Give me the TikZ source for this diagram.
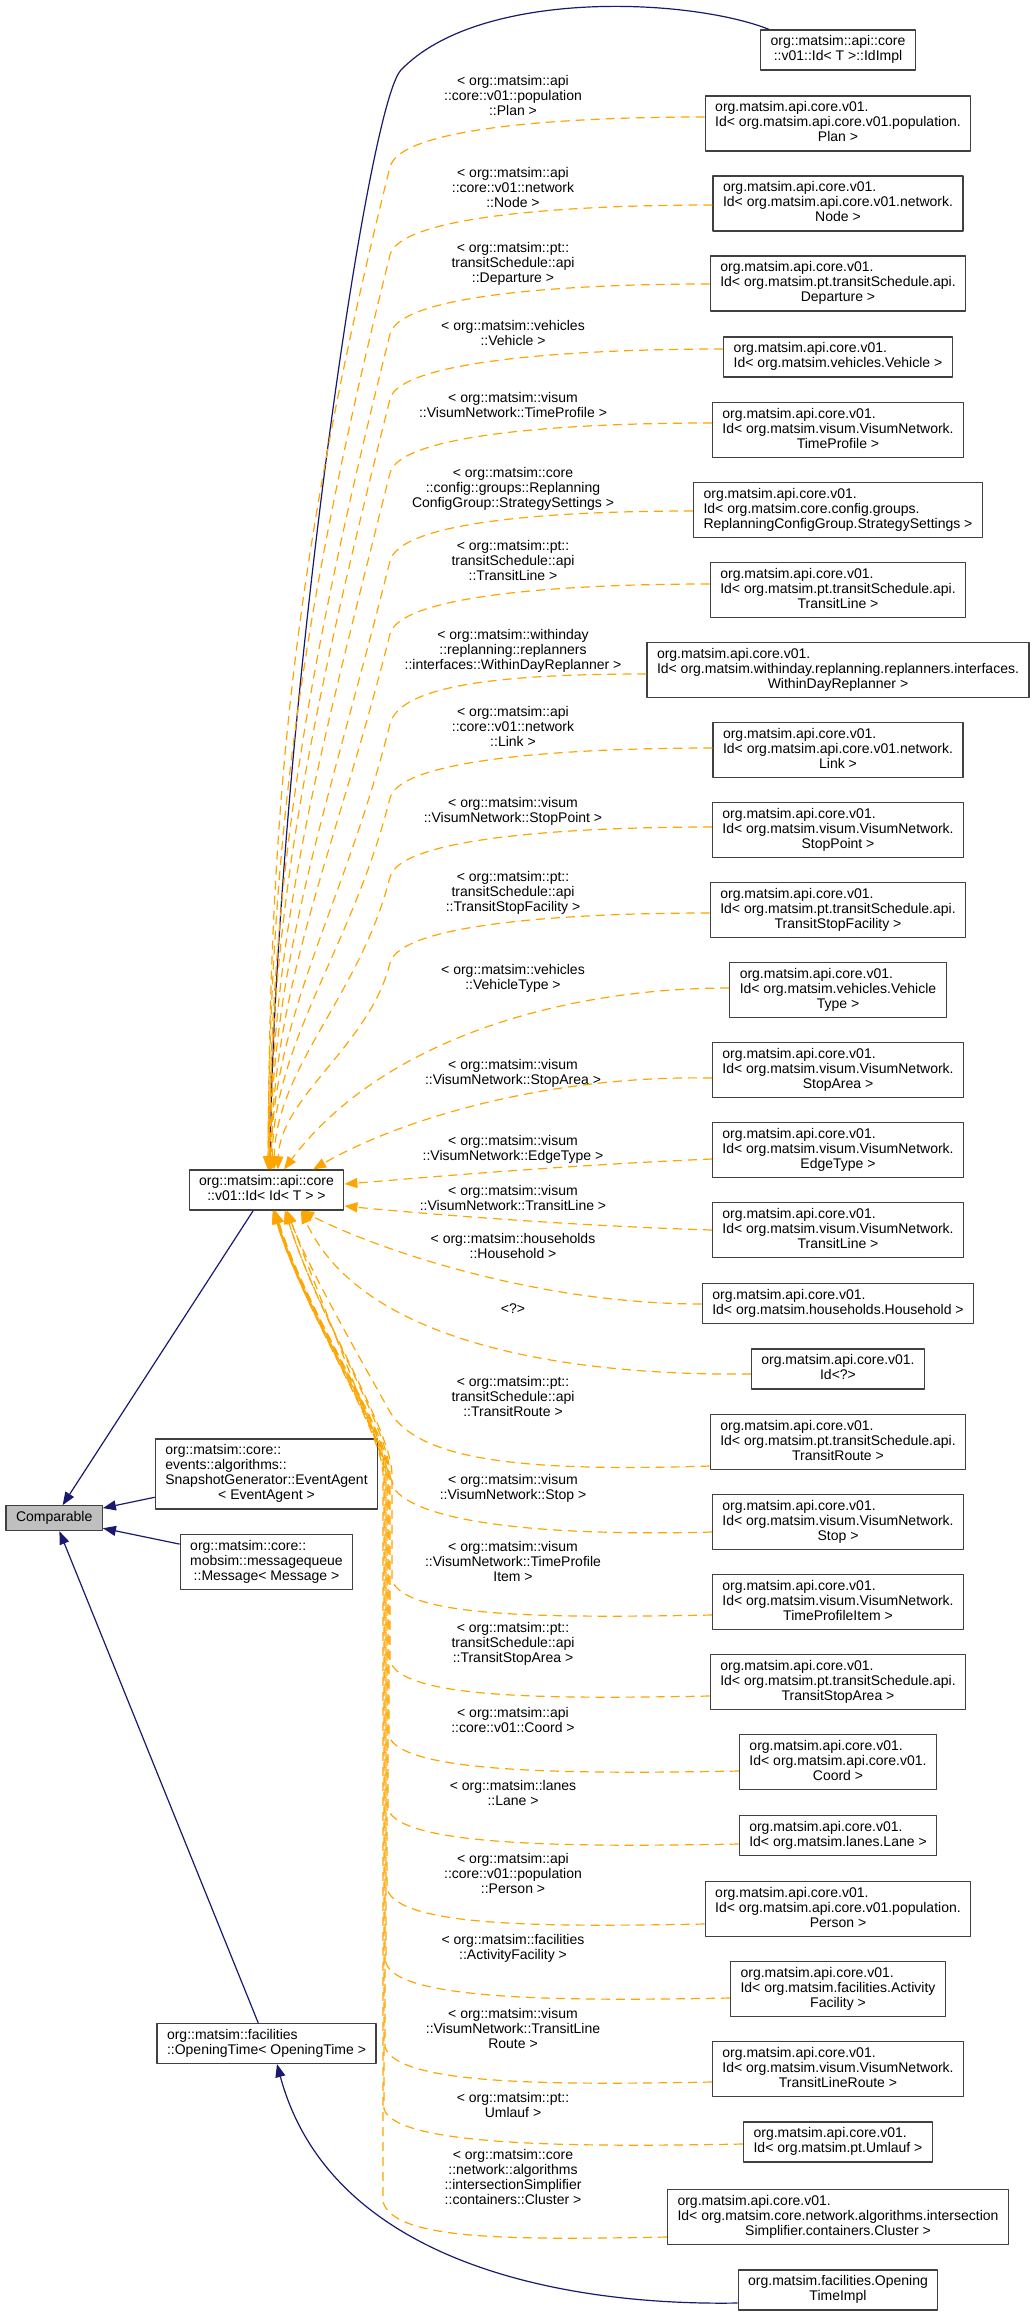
\documentclass[tikz,border=0pt]{standalone}
\usepackage{fontspec}
\setmainfont{Liberation Sans}
\usetikzlibrary{arrows.meta}
\definecolor{dgNavy}{HTML}{191970}
\definecolor{dgOrange}{HTML}{FFA500}
\definecolor{dgBorder}{HTML}{404040}
\definecolor{dgRoot}{HTML}{BFBFBF}
\tikzset{
  dg graph/.style={font=\fontsize{14}{15}\selectfont, line join=round},
  dg class/.style={draw=dgBorder, fill=white, line width=1.2pt,
    inner xsep=10pt, inner ysep=5pt},
  dg root/.style={dg class, fill=dgRoot},
  dg label/.style={align=center, inner sep=0pt},
  dg inherit/.style={-{Triangle[length=13pt,width=10pt]}, draw=dgNavy, line width=1.2pt},
  dg use/.style={-{Triangle[length=13pt,width=10pt]}, draw=dgOrange, line width=1.2pt,
    dash pattern=on 9pt off 6pt}
}
% class box texts: every line left, the last one centred
\newcommand{\clsi}[1]{\begin{tabular}{@{}c@{}}#1\end{tabular}}
\newcommand{\clsii}[2]{\begin{tabular}{@{}l@{}}#1\\\multicolumn{1}{@{}c@{}}{#2}\end{tabular}}
\newcommand{\clsiii}[3]{\begin{tabular}{@{}l@{}}#1\\#2\\\multicolumn{1}{@{}c@{}}{#3}\end{tabular}}
\newcommand{\clsiv}[4]{\begin{tabular}{@{}l@{}}#1\\#2\\#3\\\multicolumn{1}{@{}c@{}}{#4}\end{tabular}}
\begin{document}
\begin{tikzpicture}[dg graph,x=1pt,y=-1pt]
\useasboundingbox (0,0) rectangle (1036,2316);
% left column
\node[dg root] (comparable) at (54.2,1518.2) {\clsi{Comparable}};
\node[dg class] (idid) at (266.5,1190) {\clsii{org::matsim::api::core}{::v01::Id< Id< T > >}};
\node[dg class] (evagent) at (266.5,1474) {\clsiv{org::matsim::core::}{events::algorithms::}{SnapshotGenerator::EventAgent}{< EventAgent >}};
\node[dg class] (message) at (266.5,1562) {\clsiii{org::matsim::core::}{mobsim::messagequeue}{::Message< Message >}};
\node[dg class] (otime) at (266.5,2043.5) {\clsii{org::matsim::facilities}{::OpeningTime< OpeningTime >}};
% right column
\node[dg class] (idimpl) at (838,50) {\clsii{org::matsim::api::core}{::v01::Id< T >::IdImpl}};
\node[dg class] (idplan) at (838,123.5) {\clsiii{org.matsim.api.core.v01.}{Id< org.matsim.api.core.v01.population.}{Plan >}};
\node[dg class] (idnode) at (838,203.5) {\clsiii{org.matsim.api.core.v01.}{Id< org.matsim.api.core.v01.network.}{Node >}};
\node[dg class] (iddep) at (838,283.5) {\clsiii{org.matsim.api.core.v01.}{Id< org.matsim.pt.transitSchedule.api.}{Departure >}};
\node[dg class] (idveh) at (838,357) {\clsii{org.matsim.api.core.v01.}{Id< org.matsim.vehicles.Vehicle >}};
\node[dg class] (idtprof) at (838,430) {\clsiii{org.matsim.api.core.v01.}{Id< org.matsim.visum.VisumNetwork.}{TimeProfile >}};
\node[dg class] (idstrat) at (838,510) {\clsiii{org.matsim.api.core.v01.}{Id< org.matsim.core.config.groups.}{ReplanningConfigGroup.StrategySettings >}};
\node[dg class] (idtline) at (838,590) {\clsiii{org.matsim.api.core.v01.}{Id< org.matsim.pt.transitSchedule.api.}{TransitLine >}};
\node[dg class] (idwdr) at (838,670) {\clsiii{org.matsim.api.core.v01.}{Id< org.matsim.withinday.replanning.replanners.interfaces.}{WithinDayReplanner >}};
\node[dg class] (idlink) at (838,750) {\clsiii{org.matsim.api.core.v01.}{Id< org.matsim.api.core.v01.network.}{Link >}};
\node[dg class] (idspoint) at (838,830) {\clsiii{org.matsim.api.core.v01.}{Id< org.matsim.visum.VisumNetwork.}{StopPoint >}};
\node[dg class] (idtsfac) at (838,910) {\clsiii{org.matsim.api.core.v01.}{Id< org.matsim.pt.transitSchedule.api.}{TransitStopFacility >}};
\node[dg class] (idvtype) at (838,990) {\clsiii{org.matsim.api.core.v01.}{Id< org.matsim.vehicles.Vehicle}{Type >}};
\node[dg class] (idsarea) at (838,1070) {\clsiii{org.matsim.api.core.v01.}{Id< org.matsim.visum.VisumNetwork.}{StopArea >}};
\node[dg class] (idetype) at (838,1150) {\clsiii{org.matsim.api.core.v01.}{Id< org.matsim.visum.VisumNetwork.}{EdgeType >}};
\node[dg class] (idvtline) at (838,1230) {\clsiii{org.matsim.api.core.v01.}{Id< org.matsim.visum.VisumNetwork.}{TransitLine >}};
\node[dg class] (idhhold) at (838,1303.5) {\clsii{org.matsim.api.core.v01.}{Id< org.matsim.households.Household >}};
\node[dg class] (idany) at (838,1369) {\clsii{org.matsim.api.core.v01.}{Id<?>}};
\node[dg class] (idtroute) at (838,1442) {\clsiii{org.matsim.api.core.v01.}{Id< org.matsim.pt.transitSchedule.api.}{TransitRoute >}};
\node[dg class] (idstop) at (838,1522) {\clsiii{org.matsim.api.core.v01.}{Id< org.matsim.visum.VisumNetwork.}{Stop >}};
\node[dg class] (idtpitem) at (838,1602) {\clsiii{org.matsim.api.core.v01.}{Id< org.matsim.visum.VisumNetwork.}{TimeProfileItem >}};
\node[dg class] (idtsarea) at (838,1682) {\clsiii{org.matsim.api.core.v01.}{Id< org.matsim.pt.transitSchedule.api.}{TransitStopArea >}};
\node[dg class] (idcoord) at (838,1762) {\clsiii{org.matsim.api.core.v01.}{Id< org.matsim.api.core.v01.}{Coord >}};
\node[dg class] (idlane) at (838,1835.7) {\clsii{org.matsim.api.core.v01.}{Id< org.matsim.lanes.Lane >}};
\node[dg class] (idperson) at (838,1909) {\clsiii{org.matsim.api.core.v01.}{Id< org.matsim.api.core.v01.population.}{Person >}};
\node[dg class] (idafac) at (838,1989) {\clsiii{org.matsim.api.core.v01.}{Id< org.matsim.facilities.Activity}{Facility >}};
\node[dg class] (idtlroute) at (838,2069) {\clsiii{org.matsim.api.core.v01.}{Id< org.matsim.visum.VisumNetwork.}{TransitLineRoute >}};
\node[dg class] (idumlauf) at (838,2142) {\clsii{org.matsim.api.core.v01.}{Id< org.matsim.pt.Umlauf >}};
\node[dg class] (idcluster) at (838,2217) {\clsiii{org.matsim.api.core.v01.}{Id< org.matsim.core.network.algorithms.intersection}{Simplifier.containers.Cluster >}};
\node[dg class] (otimpl) at (838,2290) {\clsii{org.matsim.facilities.Opening}{TimeImpl}};
% template argument labels
\node[dg label] (lplan) at (513,95) {< org::matsim::api\\::core::v01::population\\::Plan >};
\node[dg label] (lnode) at (513,187) {< org::matsim::api\\::core::v01::network\\::Node >};
\node[dg label] (ldep) at (513,264) {< org::matsim::pt::\\transitSchedule::api\\::Departure >};
\node[dg label] (lveh) at (513,332.5) {< org::matsim::vehicles\\::Vehicle >};
\node[dg label] (ltprof) at (513,405) {< org::matsim::visum\\::VisumNetwork::TimeProfile >};
\node[dg label] (lstrat) at (513,489.3) {< org::matsim::core\\::config::groups::Replanning\\ConfigGroup::StrategySettings >};
\node[dg label] (ltline) at (513,560) {< org::matsim::pt::\\transitSchedule::api\\::TransitLine >};
\node[dg label] (lwdr) at (513,650.7) {< org::matsim::withinday\\::replanning::replanners\\::interfaces::WithinDayReplanner >};
\node[dg label] (llink) at (513,726.7) {< org::matsim::api\\::core::v01::network\\::Link >};
\node[dg label] (lspoint) at (513,811.5) {< org::matsim::visum\\::VisumNetwork::StopPoint >};
\node[dg label] (ltsfac) at (513,893.3) {< org::matsim::pt::\\transitSchedule::api\\::TransitStopFacility >};
\node[dg label] (lvtype) at (513,978) {< org::matsim::vehicles\\::VehicleType >};
\node[dg label] (lsarea) at (513,1073) {< org::matsim::visum\\::VisumNetwork::StopArea >};
\node[dg label] (letype) at (513,1149) {< org::matsim::visum\\::VisumNetwork::EdgeType >};
\node[dg label] (lvtline) at (513,1198) {< org::matsim::visum\\::VisumNetwork::TransitLine >};
\node[dg label] (lhhold) at (513,1246.3) {< org::matsim::households\\::Household >};
\node[dg label] (lany) at (513,1309) {<?>};
\node[dg label] (ltroute) at (513,1396.3) {< org::matsim::pt::\\transitSchedule::api\\::TransitRoute >};
\node[dg label] (lstop) at (513,1488.7) {< org::matsim::visum\\::VisumNetwork::Stop >};
\node[dg label] (ltpitem) at (513,1561.3) {< org::matsim::visum\\::VisumNetwork::TimeProfile\\Item >};
\node[dg label] (ltsarea) at (513,1644.3) {< org::matsim::pt::\\transitSchedule::api\\::TransitStopArea >};
\node[dg label] (lcoord) at (513,1720) {< org::matsim::api\\::core::v01::Coord >};
\node[dg label] (llane) at (513,1792.7) {< org::matsim::lanes\\::Lane >};
\node[dg label] (lperson) at (513,1873.3) {< org::matsim::api\\::core::v01::population\\::Person >};
\node[dg label] (lafac) at (513,1948.7) {< org::matsim::facilities\\::ActivityFacility >};
\node[dg label] (ltlroute) at (513,2028) {< org::matsim::visum\\::VisumNetwork::TransitLine\\Route >};
\node[dg label] (lumlauf) at (513,2105) {< org::matsim::pt::\\Umlauf >};
\node[dg label] (lcluster) at (513,2177) {< org::matsim::core\\::network::algorithms\\::intersectionSimplifier\\::containers::Cluster >};
% inheritance
\draw[dg inherit] ([xshift=9pt]idimpl.north west) .. controls (690,-2) and (480,-12) .. (401,70)
  .. controls (366,106) and (275,750) .. (idid.north -| 270,0);
\draw[dg inherit] (idid) -- (comparable);
\draw[dg inherit] (evagent) -- (comparable);
\draw[dg inherit] (message) -- (comparable);
\draw[dg inherit] (otime) -- (comparable);
\draw[dg inherit] (otimpl.west |- 0,2303) .. controls +(-178,3) and +(53,197) .. (otime.south -| 277,0);
% template instances, upper ones into the top of Id
\foreach \src/\attach/\endx in {idplan/117/268, idnode/205/268, iddep/284/269, idveh/349/269,
    idtprof/423/270, idstrat/511/270, idtline/584/271, idwdr/674/271, idlink/748/272,
    idspoint/827/274, idtsfac/913/278} {
  \pgfmathsetmacro\vspan{1120-\attach}
  \draw[dg use] (\src.west |- 0,\attach) .. controls +(-145,0) and +(10,-39) .. (390,\attach+50)
    .. controls +(-0.1*\vspan,0.4*\vspan) and +(2,-0.35*\vspan) .. (idid.north -| \endx,0);
}
\draw[dg use] (idvtype.west |- 0,988) .. controls +(-170,0) and +(96,-128) .. (idid.north -| 284,0);
\draw[dg use] (idsarea.west |- 0,1078) .. controls +(-165,-3) and +(87,-50) .. (idid.north -| 313,0);
% into the right side
\draw[dg use] (idetype.west |- 0,1159) .. controls +(-165,7) and +(40,-3) .. (idid.east |- 0,1184);
\draw[dg use] (idvtline.west |- 0,1230) .. controls +(-165,-5) and +(40,4) .. (idid.east |- 0,1206);
% lower ones into the bottom
\draw[dg use] (idhhold.west |- 0,1304) .. controls +(-163,0) and +(79,40) .. (idid.south -| 301,0);
\draw[dg use] (idany.west |- 0,1374) .. controls +(-192,2) and +(59,130) .. (idid.south -| 301,0);
\draw[dg use] (idtroute.west |- 0,1466) .. controls +(-190,6) and +(30,48) .. (390,1412)
  .. controls +(-22,-40) and +(22,60) .. (idid.south -| 287,0);
\draw[dg use] (idstop.west |- 0,1532) .. controls +(-155,4) and +(30,35) .. (395,1490)
  .. controls +(-14,-40) and +(30,80) .. (idid.south -| 287,0);
\foreach \src/\attach/\colx/\endx in {idtpitem/1615/392/285, idtsarea/1696/390/285,
    idcoord/1771/389/275, idlane/1844/388/275, idperson/1924/387/274, idafac/1998/386/274,
    idtlroute/2082/385/273, idumlauf/2144/384/273, idcluster/2237/383/273} {
  \draw[dg use] (\src.west |- 0,\attach) .. controls +(-160,3) and +(12,38) .. (\colx,\attach-35)
    -- (\colx,1475) .. controls +(0,-45) and +(35,110) .. (idid.south -| \endx,0);
}
\end{tikzpicture}
\end{document}
